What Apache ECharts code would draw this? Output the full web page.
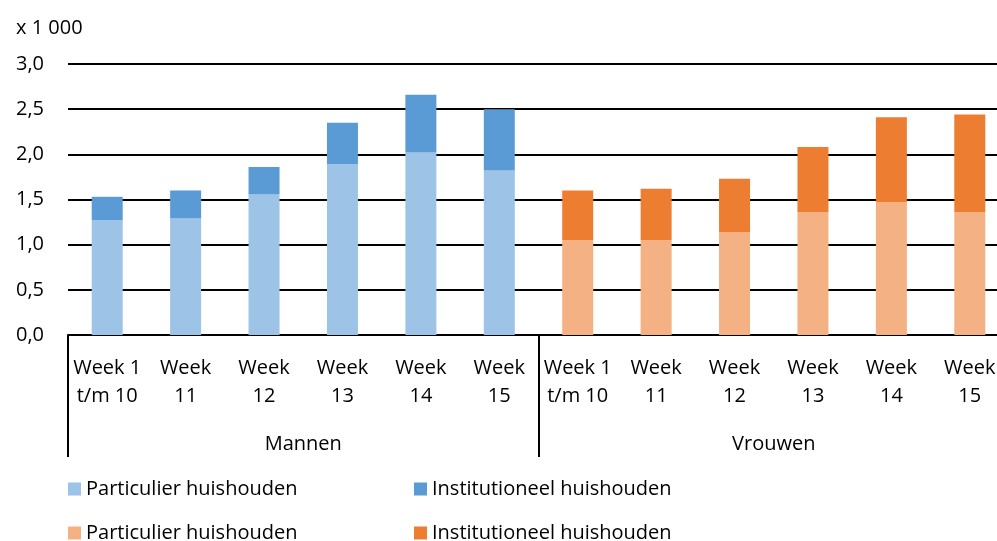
<!DOCTYPE html>
<html>
<head>
<meta charset="utf-8">
<script src="https://cdn.jsdelivr.net/npm/echarts@6/dist/echarts.min.js"></script>
<style>
  html, body { margin: 0; padding: 0; background: #fff; }
  #chart-box { width: 997px; height: 541px; }
</style>
</head>
<body>
<div id="chart-box"></div>
<script>
// weken per groep (labels zoals in de grafiek, afgebroken over twee regels)
const weeks = ['Week 1\nt/m 10', 'Week\n11', 'Week\n12', 'Week\n13', 'Week\n14', 'Week\n15'];
const groups = ['Mannen', 'Vrouwen'];
const categories = weeks.concat(weeks);

// x 1 000
const menPrivate = [1.27, 1.29, 1.56, 1.89, 2.02, 1.82];
const menInstitutional = [0.26, 0.31, 0.30, 0.46, 0.64, 0.68];
const womenPrivate = [1.05, 1.05, 1.14, 1.36, 1.47, 1.36];
const womenInstitutional = [0.55, 0.57, 0.59, 0.72, 0.94, 1.08];

const yTicks = { min: 0, max: 3, interval: 0.5 };

const empty = weeks.map(() => '-');
const font = 'Open Sans';

function legendAt(name, left, top) {
  return {
    data: [name],
    left: left,
    top: top,
    padding: 0,
    itemWidth: 13,
    itemHeight: 13,
    icon: 'rect',
    selectedMode: false,
    formatter: n => n.split('|')[0],
    textStyle: { fontFamily: font, fontSize: 20, color: '#000', lineHeight: 22 }
  };
}

let chartDom = document.getElementById('chart-box');
var chart = echarts.init(chartDom);
let option = {
  animation: false,
  title: {
    text: 'x 1 000',
    left: 16,
    top: 18,
    padding: 0,
    textStyle: { fontFamily: font, fontSize: 20, fontWeight: 'normal', color: '#000' }
  },
  legend: [
    legendAt('Particulier huishouden|M', 68, 478),
    legendAt('Institutioneel huishouden|M', 414, 478),
    legendAt('Particulier huishouden|V', 68, 522),
    legendAt('Institutioneel huishouden|V', 414, 522)
  ],
  grid: {
    left: 68,
    width: 941,
    top: 64,
    height: 271,
    outerBoundsMode: 'none'
  },
  xAxis: [
    {
      type: 'category',
      data: categories,
      axisLine: { lineStyle: { color: '#000', width: 2 } },
      axisTick: { show: false },
      axisLabel: {
        interval: 0,
        margin: 19,
        fontFamily: font,
        fontSize: 20,
        lineHeight: 28,
        color: '#000'
      }
    },
    {
      type: 'category',
      data: groups,
      position: 'bottom',
      axisLine: { show: false },
      axisTick: { show: true, length: 122, lineStyle: { color: '#000', width: 2 } },
      axisLabel: {
        margin: 99,
        fontFamily: font,
        fontSize: 20,
        color: '#000'
      }
    }
  ],
  yAxis: {
    type: 'value',
    min: yTicks.min,
    max: yTicks.max,
    interval: yTicks.interval,
    axisLine: { show: false },
    axisTick: { show: false },
    splitLine: { lineStyle: { color: '#000', width: 2 } },
    axisLabel: {
      margin: 24,
      fontFamily: font,
      fontSize: 20,
      color: '#000',
      formatter: v => v.toFixed(1).replace('.', ',')
    }
  },
  series: [
    {
      name: 'Particulier huishouden|M',
      type: 'bar',
      stack: 'totaal',
      barWidth: 31,
      data: menPrivate.concat(empty),
      itemStyle: { color: '#9DC3E6' }
    },
    {
      name: 'Institutioneel huishouden|M',
      type: 'bar',
      stack: 'totaal',
      barWidth: 31,
      data: menInstitutional.concat(empty),
      itemStyle: { color: '#5B9BD5' }
    },
    {
      name: 'Particulier huishouden|V',
      type: 'bar',
      stack: 'totaal',
      barWidth: 31,
      data: empty.concat(womenPrivate),
      itemStyle: { color: '#F4B183' }
    },
    {
      name: 'Institutioneel huishouden|V',
      type: 'bar',
      stack: 'totaal',
      barWidth: 31,
      data: empty.concat(womenInstitutional),
      itemStyle: { color: '#ED7D31' }
    }
  ]
};
option && chart.setOption(option);
</script>
</body>
</html>
